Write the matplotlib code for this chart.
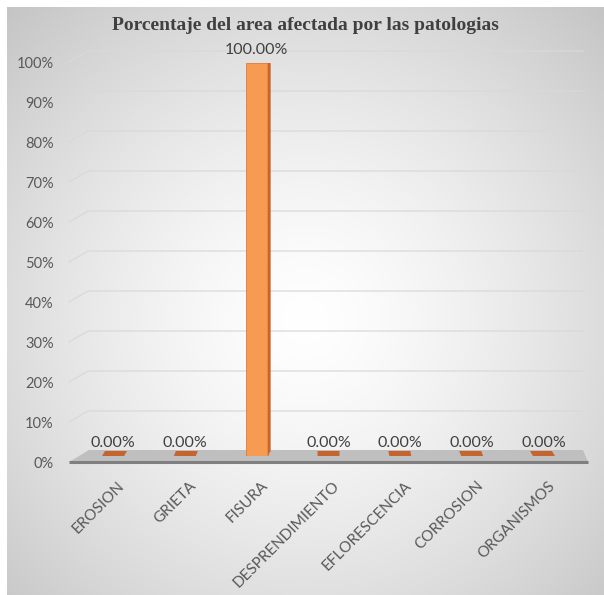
import numpy as np
import matplotlib.pyplot as plt
from matplotlib.patches import Polygon

categories = ["EROSION", "GRIETA", "FISURA", "DESPRENDIMIENTO",
              "EFLORESCENCIA", "CORROSION", "ORGANISMOS"]
values = [0.0, 0.0, 1.0, 0.0, 0.0, 0.0, 0.0]
yticks = np.arange(0, 1.01, 0.1)
title = "Porcentaje del area afectada por las patologias"

W, H = 604, 595
fig = plt.figure(figsize=(W / 100, H / 100), dpi=100)
fig.patch.set_facecolor("white")

# radial gradient background of the chart area
bg = fig.add_axes([7 / W, 0, (W - 7) / W, (H - 7) / H])
yy, xx = np.mgrid[7:H, 7:W]
r = np.hypot(xx - 305, yy - 320) / 430
gray = 255 - 58 * np.clip(r, 0, 1) ** 1.4
bg.imshow(np.dstack([gray] * 3).astype(np.uint8), aspect="auto",
          extent=(7, W, H, 7))
bg.set_xlim(7, W)
bg.set_ylim(H, 7)
bg.axis("off")

# overlay canvas in pixel coordinates for the floor and the back wall
cv = fig.add_axes([0, 0, 1, 1], facecolor="none")
cv.set_xlim(0, W)
cv.set_ylim(H, 0)
cv.axis("off")

# front axes (tick labels), 0% at y=462, 100% at y=62
x_left, x_right, y0, y1 = 69, 588, 462, 62
ax = fig.add_axes([x_left / W, 1 - y0 / H, (x_right - x_left) / W, (y0 - y1) / H],
                  facecolor="none")
xs = np.arange(len(categories))
xlim = (-0.613, 6.613)
ax.set_xlim(*xlim)
ax.set_ylim(0, 1)
for s in ax.spines.values():
    s.set_visible(False)
ax.set_yticks(yticks)
ax.set_yticklabels([f"{t:.0%}" for t in yticks], fontsize=10.5,
                   color="#595959", family="Lato")
ax.set_xticks(xs + 0.06)
ax.set_xticklabels(categories, rotation=45, ha="right", rotation_mode="anchor",
                   fontsize=11, color="#595959", family="Lato")
ax.tick_params(length=0, axis="y", pad=11)
ax.tick_params(length=0, axis="x", pad=12)

# back wall gridlines with a short side-wall segment
for t in yticks[1:]:
    yf = y0 - (y0 - y1) * t
    yb = yf - 11
    cv.plot([x_left, 88, 583], [yf, yb, yb], color="#d9d9d9", lw=0.9)

# floor
cv.add_patch(Polygon([(69, 462), (588, 462), (583, 450), (89, 450)],
                     closed=True, facecolor="#bfbfbf", edgecolor="none"))
cv.plot([69, 588], [461.5, 461.5], color="#7f7f7f", lw=2.2, solid_capstyle="butt")

# bars sit at mid depth of the floor
yb0, yb1 = 456, 63
axb = fig.add_axes([x_left / W, 1 - yb0 / H, (x_right - x_left) / W, (yb0 - yb1) / H],
                   facecolor="none")
axb.set_xlim(*xlim)
axb.set_ylim(0, 1)
axb.axis("off")
bw = 0.306
sx = (xlim[1] - xlim[0]) / (x_right - x_left)   # data per pixel in x
sy = 1 / (yb0 - yb1)                            # data per pixel in y
axb.bar(xs, values, width=bw, color="#f79a52", edgecolor="#e07b32", lw=0.6)
for x, v in zip(xs, values):
    xc = x_left + (x - xlim[0]) / sx
    dx = 3 * (329 - xc) / 216 * sx
    dy = 5 * sy
    if v > 0:
        side = 3 * sx
        axb.add_patch(Polygon([(x + bw / 2, 0), (x + bw / 2 + side, dy),
                               (x + bw / 2 + side, v + dy), (x + bw / 2, v)],
                              closed=True, facecolor="#c9652a", edgecolor="none"))
        dx = side
        top_c = "#f5a870"
    else:
        top_c = "#c4652f"
    axb.add_patch(Polygon([(x - bw / 2, v), (x + bw / 2, v),
                           (x + bw / 2 + dx, v + dy), (x - bw / 2 + dx, v + dy)],
                          closed=True, facecolor=top_c, edgecolor="none"))
    axb.annotate(f"{v:.2%}", (x, v), xytext=(0, 13), textcoords="offset pixels",
                 ha="center", va="center", fontsize=11.5, color="#404040",
                 family="Lato")

fig.text(0.506, 1 - 25 / H, title, ha="center", va="center", fontsize=14,
         fontweight="bold", family="Liberation Serif", color="#404040")

fig.savefig("out.png", dpi=100)
